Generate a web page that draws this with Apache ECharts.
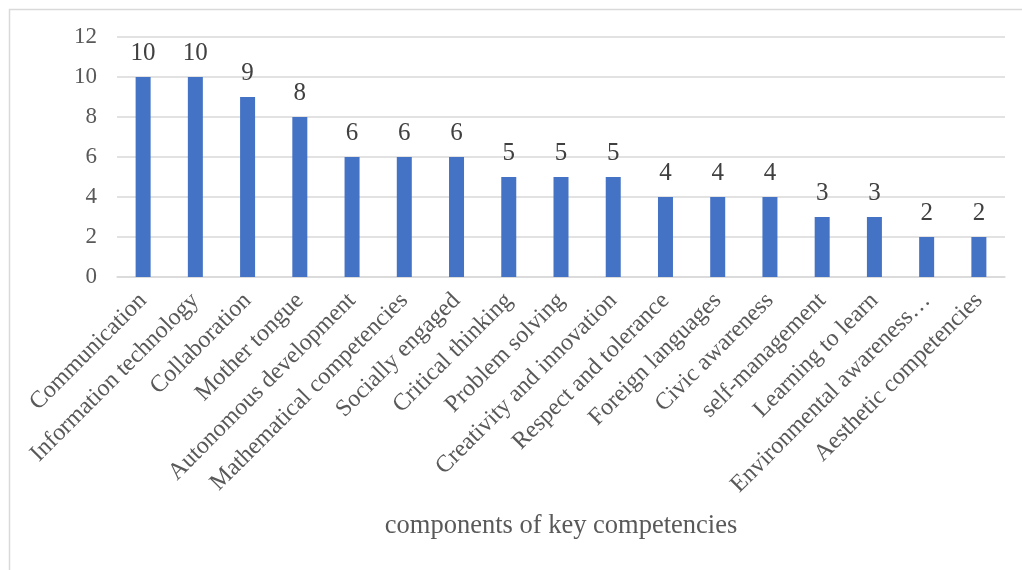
<!DOCTYPE html>
<html>
<head>
<meta charset="utf-8">
<script src="https://cdn.jsdelivr.net/npm/echarts@6/dist/echarts.min.js"></script>
<style>
  html, body { margin: 0; padding: 0; background: #fff; overflow: hidden; }
  #chart { width: 1022px; height: 570px; }
</style>
</head>
<body>
<div id="chart"></div>
<script>
const categories = [
    'Communication', 'Information technology', 'Collaboration', 'Mother tongue',
    'Autonomous development', 'Mathematical competencies', 'Socially engaged',
    'Critical thinking', 'Problem solving', 'Creativity and innovation',
    'Respect and tolerance', 'Foreign languages', 'Civic awareness',
    'self-management', 'Learning to learn', 'Environmental awareness…',
    'Aesthetic competencies'
];
const counts = [10, 10, 9, 8, 6, 6, 6, 5, 5, 5, 4, 4, 4, 3, 3, 2, 2];
const yTicks = { min: 0, max: 12, interval: 2 };
const axisName = 'components of key competencies';

const serif = '"Liberation Serif", "Times New Roman", serif';
const chart = echarts.init(document.getElementById('chart'), null, { renderer: 'canvas' });

chart.setOption({
    backgroundColor: '#fff',
    animation: false,
    graphic: [{
        type: 'rect',
        left: 7,
        top: 7,
        shape: { width: 1040, height: 600 },
        style: { fill: 'none', stroke: '#d9d9d9', lineWidth: 1.5 },
        silent: true
    }],
    grid: {
        left: 117,
        right: 17,
        top: 37,
        bottom: 293,
        containLabel: false
    },
    xAxis: {
        type: 'category',
        data: categories,
        name: axisName,
        nameLocation: 'middle',
        nameGap: 236,
        nameTextStyle: { fontFamily: serif, fontSize: 26.5, color: '#595959' },
        axisLine: { lineStyle: { color: '#d9d9d9', width: 1.5 } },
        axisTick: { show: false },
        axisLabel: {
            interval: 0,
            rotate: 45,
            margin: 20,
            fontFamily: serif,
            fontSize: 24,
            color: '#595959'
        }
    },
    yAxis: {
        type: 'value',
        min: yTicks.min,
        max: yTicks.max,
        interval: yTicks.interval,
        axisLine: { show: false },
        axisTick: { show: false },
        axisLabel: { fontFamily: serif, fontSize: 23, color: '#595959', margin: 20 },
        splitLine: { lineStyle: { color: '#d9d9d9', width: 1.5 } }
    },
    series: [{
        type: 'bar',
        data: counts,
        barWidth: 15,
        itemStyle: { color: '#4472C4' },
        label: {
            show: true,
            position: 'top',
            distance: 11,
            fontFamily: serif,
            fontSize: 25,
            color: '#404040'
        }
    }]
});
</script>
</body>
</html>
